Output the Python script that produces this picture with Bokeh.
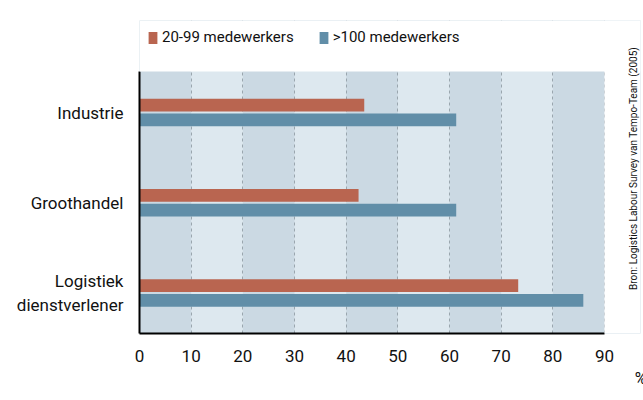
import math
from bokeh.plotting import figure
from bokeh.models import (Range1d, FixedTicker, Legend, LegendItem, ColumnDataSource,
                          BoxAnnotation, Label)
from bokeh.transform import dodge
from bokeh.embed import file_html
from bokeh.resources import INLINE

# ---- data ----
categories = ["Industrie", "Groothandel", "Logistiek\ndienstverlener"]
positions = [2, 1, 0]
series_names = ["20-99 medewerkers", ">100 medewerkers"]
values_20_99 = [43.5, 42.4, 73.3]
values_100 = [61.3, 61.3, 85.9]
x_ticks = [0, 10, 20, 30, 40, 50, 60, 70, 80, 90]
source_text = "Bron: Logistics Labour Survey van Tempo-Team (2005)"
unit_text = "%"

# ---- style / layout ----
FONT = "Roboto"
RED = "#b96550"
BLUE = "#618ea8"
DARK_BAND = "#cbd9e3"
LIGHT_BAND = "#dde8ef"
TXT = "#111111"
Y_LOW, Y_TOP = -0.45, 2.455          # extent of the banded plotting area
X_END, Y_END = 96.97, 3.02           # frame extended to hold legend and source note

src = ColumnDataSource(dict(pos=positions, small=values_20_99, large=values_100))

p = figure(width=643, height=400, output_backend="svg", toolbar_location=None,
           x_range=Range1d(x_ticks[0], X_END), y_range=Range1d(Y_LOW, Y_END),
           min_border_left=139, min_border_right=3, min_border_top=20, min_border_bottom=67,
           background_fill_color=DARK_BAND, border_fill_color="white",
           outline_line_color=None)

r1 = p.hbar(y=dodge("pos", 0.0817), left=0, right="small", height=0.141, source=src,
            fill_color=RED, line_color=None)
r2 = p.hbar(y=dodge("pos", -0.0817), left=0, right="large", height=0.141, source=src,
            fill_color=BLUE, line_color=None)

# grid with alternating bands
p.xgrid.ticker = FixedTicker(ticks=x_ticks)
p.xgrid.grid_line_color = "#9aa6ae"
p.xgrid.grid_line_dash = "3 3"
p.xgrid.grid_line_width = 1
p.xgrid.band_fill_color = LIGHT_BAND
p.xgrid.band_fill_alpha = 1.0
p.ygrid.grid_line_color = None

# white cover outside the banded area (top strip and right strip)
p.add_layout(BoxAnnotation(bottom=Y_TOP, fill_color="white", fill_alpha=1.0, line_color=None))
p.add_layout(BoxAnnotation(left=x_ticks[-1], fill_color="white", fill_alpha=1.0, line_color=None))

# x axis
xa = p.xaxis[0]
xa.ticker = FixedTicker(ticks=x_ticks)
xa.bounds = (x_ticks[0], x_ticks[-1])
xa.axis_line_color = "black"
xa.axis_line_width = 2
xa.major_tick_line_color = None
xa.minor_tick_line_color = None
xa.major_label_text_font = FONT
xa.major_label_text_font_size = "17px"
xa.major_label_text_color = TXT
xa.major_label_standoff = 10
xa.axis_label = unit_text
xa.axis_label_text_font = FONT
xa.axis_label_text_font_style = "normal"
xa.axis_label_text_font_size = "16px"
xa.axis_label_text_color = TXT
xa.axis_label_standoff = 4
if "axis_label_align" in xa.properties():
    xa.axis_label_align = "end"

# y axis
ya = p.yaxis[0]
ya.ticker = FixedTicker(ticks=positions)
ya.bounds = (Y_LOW, Y_TOP)
ya.major_label_overrides = {pos: lab for pos, lab in zip(positions, categories)}
ya.axis_line_color = "black"
ya.axis_line_width = 2
ya.major_tick_line_color = None
ya.minor_tick_line_color = None
ya.major_label_text_font = FONT
ya.major_label_text_font_size = "17px"
ya.major_label_text_color = TXT
ya.major_label_standoff = 10

# source note (rotated, reads bottom to top)
p.add_layout(Label(x=95.6, y=1.379, text=source_text, angle=math.pi / 2,
                   text_align="center", text_baseline="middle",
                   text_font=FONT, text_font_size="10px", text_color=TXT))

# legend
legend = Legend(items=[LegendItem(label=series_names[0], renderers=[r1]),
                       LegendItem(label=series_names[1], renderers=[r2])],
                orientation="horizontal", location="top_left",
                border_line_color=None, background_fill_alpha=0,
                padding=0, margin=8, spacing=24, label_standoff=4,
                glyph_width=11, glyph_height=15,
                label_text_font=FONT, label_text_font_size="15px",
                label_text_color=TXT)
p.add_layout(legend)

open("out.html", "w").write(file_html(p, INLINE))
